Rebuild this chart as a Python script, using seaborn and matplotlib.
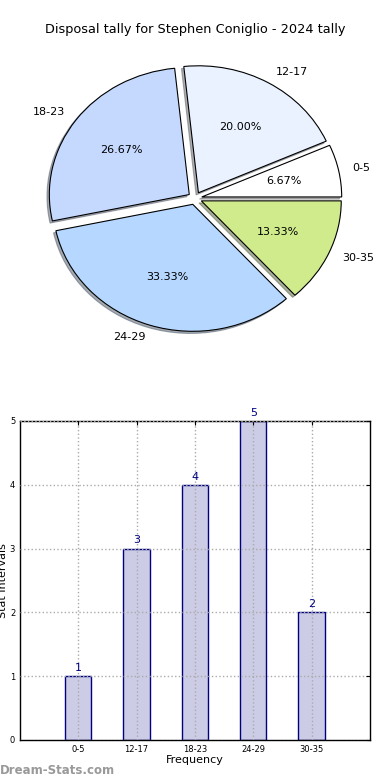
import matplotlib
matplotlib.use("Agg")
import matplotlib.pyplot as plt
import seaborn as sns
import pandas as pd

sns.set_style("white")
plt.rcParams['font.family'] = ['DejaVu Sans']
plt.rcParams['text.color'] = 'black'
plt.rcParams['axes.labelcolor'] = 'black'
plt.rcParams['xtick.color'] = 'black'
plt.rcParams['ytick.color'] = 'black'

categories = ["0-5", "12-17", "18-23", "24-29", "30-35"]
counts = [1, 3, 4, 5, 2]
pie_colors = ["#ffffff", "#eaf2ff", "#c5d9ff", "#b6d7ff", "#cfeb8c"]
title = "Disposal tally for Stephen Coniglio - 2024 tally"

df = pd.DataFrame({"interval": categories, "count": counts})

fig = plt.figure(figsize=(3.9, 7.8), dpi=100)

# Pie chart
ax1 = fig.add_axes([0.0513, 0.5423, 0.897, 0.407])
ax1.pie(df["count"], labels=df["interval"], colors=pie_colors,
        explode=[0.05] * len(categories), autopct="%.2f%%",
        shadow={"ox": -0.012, "oy": -0.012, "shade": 0.6},
        startangle=0, wedgeprops=dict(edgecolor="black", linewidth=0.8),
        textprops=dict(fontsize=8, color="black"))
ax1.set_aspect("auto")
ax1.set_xlim(-1.25, 1.25)
ax1.set_ylim(-1.25, 1.25)
fig.text(0.5, 1 - 30 / 780, title, ha="center", va="center", fontsize=9.3)

# Bar chart
ax2 = fig.add_axes([0.0513, 0.0513, 0.897, 0.409])
sns.barplot(data=df, x="interval", y="count", ax=ax2, color="#ccccE6",
            edgecolor="#000080", linewidth=1, width=0.45, saturation=1)
ax2.set_xlim(-1, 5)
ax2.set_ylim(0, 5)
ax2.set_yticks(range(0, 6))
ax2.grid(True, color="#aaaaaa", linestyle=":", linewidth=1)
ax2.set_axisbelow(False)
for s in ax2.spines.values():
    s.set_color("black")
    s.set_linewidth(1)
ax2.tick_params(direction="in", labelsize=6, top=True, right=True, length=3)
ax2.set_xlabel("Frequency", fontsize=8, labelpad=1)
ax2.set_ylabel("Stat Intervals", fontsize=8)
ax2.yaxis.set_label_coords(-0.035, 0.5)
for i, v in enumerate(counts):
    ax2.text(i, v + 0.05, str(v), ha="center", va="bottom", color="#000080", fontsize=8)

fig.text(0.0, 1 - 771 / 780, "Dream-Stats.com", color="#999999", fontsize=8.5,
         fontweight="bold", ha="left", va="center")

fig.savefig("out.png", dpi=100)
